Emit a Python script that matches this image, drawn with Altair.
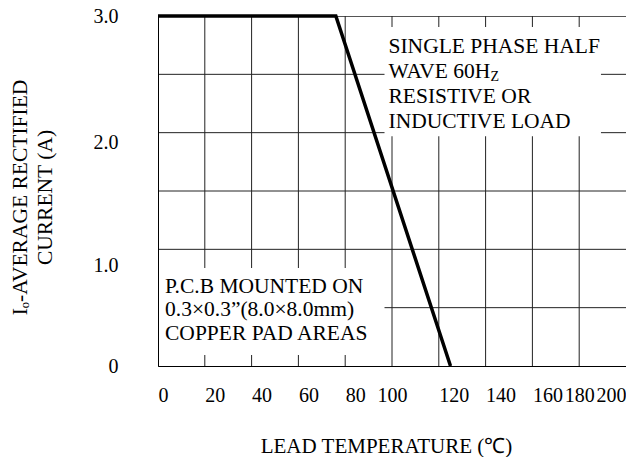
import altair as alt
import pandas as pd

# ---- data ----
temps = [0, 76, 125]          # lead temperature (°C)
current = [3.0, 3.0, 0.0]     # average rectified current (A)

x_ticks = [0, 20, 40, 60, 80, 100, 120, 140, 160, 180, 200]
y_ticks = [0, 1.0, 2.0, 3.0]
x_grid = [20, 40, 60, 80, 100, 120, 140, 160, 180]
y_grid = [0.5, 1.0, 1.5, 2.0, 2.5]

note1_lines = ["SINGLE PHASE HALF", "WAVE 60H", "RESISTIVE OR", "INDUCTIVE LOAD"]
note1_sub = "Z"
note2_lines = ["P.C.B MOUNTED ON", "0.3\u00d70.3\u201d(8.0\u00d78.0mm)", "COPPER PAD AREAS"]

# annotation anchors in data units
box_x = [96.8, 0.0]
box_x2 = [189.3, 96.8]
box_y = [2.905, 0.84]
box_y2 = [1.97, 0.094]
note1_pos = (98.5, 2.683)
note1_sub_pos = (142.1, 2.443)
note2_pos = (3.0, 0.626)

FONT = "Liberation Serif"

xs = alt.Scale(domain=[0, 200], nice=False, zero=False)
ys = alt.Scale(domain=[0, 3], nice=False)

curve = pd.DataFrame({"t": temps, "i": current})

x_axis = alt.Axis(
    values=x_ticks, format="d", grid=False, ticks=False,
    domainColor="black", domainWidth=1,
    labelFont=FONT, labelFontSize=20, labelColor="black",
    labelPadding=19, labelOffset=0,
    labelAlign={"condition": [
        {"test": "datum.value == 100 || datum.value == 180", "value": "center"},
        {"test": "datum.value == 200", "value": "right"}], "value": "left"},
    title="LEAD TEMPERATURE (\u2103)", titleFont=FONT, titleFontSize=21,
    titleFontWeight="normal", titleColor="black",
    titleX=228, titleY=86, titleBaseline="alphabetic", titleAlign="center",
    zindex=1)

y_axis = alt.Axis(
    values=y_ticks, grid=False, ticks=False,
    labelExpr="datum.value == 0 ? '0' : format(datum.value, '.1f')",
    domainColor="black", domainWidth=1,
    labelFont=FONT, labelFontSize=20, labelColor="black",
    labelPadding=40, labelLineHeight=33,
    labelBaseline={"condition": [
        {"test": "datum.value == 2", "value": "top"},
        {"test": "datum.value == 1", "value": "line-top"}], "value": "middle"},
    title=["I\u2092-AVERAGE RECTIFIED", "CURRENT (A)"], titleFont=FONT,
    titleFontSize=21.5, titleFontWeight="normal", titleColor="black",
    titleAngle=270, titleX=-132, titleY=181, titleBaseline="alphabetic",
    titleAlign="center", titleLineHeight=25, zindex=1)


def X(field):
    return alt.X(field, scale=xs, axis=x_axis)


def Y(field):
    return alt.Y(field, scale=ys, axis=y_axis)


vgrid = alt.Chart(pd.DataFrame({"g": x_grid})).mark_rule(color="#222", strokeWidth=1).encode(
    x=X("g:Q"))
hgrid = alt.Chart(pd.DataFrame({"g": y_grid})).mark_rule(color="#222", strokeWidth=1).encode(
    y=Y("g:Q"))

boxes = alt.Chart(pd.DataFrame({"x": box_x, "x2": box_x2, "y": box_y, "y2": box_y2})).mark_rect(
    fill="white").encode(x=X("x:Q"), x2="x2:Q", y=Y("y:Q"), y2="y2:Q")

note1 = alt.Chart(pd.DataFrame({"x": [note1_pos[0]], "y": [note1_pos[1]],
                                "txt": ["\n".join(note1_lines)]})).mark_text(
    align="left", baseline="alphabetic", font=FONT, fontSize=21.5, lineHeight=25,
    lineBreak="\n", color="black").encode(x=X("x:Q"), y=Y("y:Q"), text="txt:N")

note1s = alt.Chart(pd.DataFrame({"x": [note1_sub_pos[0]], "y": [note1_sub_pos[1]],
                                 "txt": [note1_sub]})).mark_text(
    align="left", baseline="alphabetic", font=FONT, fontSize=14, color="black").encode(
    x=X("x:Q"), y=Y("y:Q"), text="txt:N")

note2 = alt.Chart(pd.DataFrame({"x": [note2_pos[0]], "y": [note2_pos[1]],
                                "txt": ["\n".join(note2_lines)]})).mark_text(
    align="left", baseline="alphabetic", font=FONT, fontSize=21.5, lineHeight=23.5,
    lineBreak="\n", color="black").encode(x=X("x:Q"), y=Y("y:Q"), text="txt:N")

line = alt.Chart(curve).mark_line(color="black", strokeWidth=3.5).encode(
    x=X("t:Q"), y=Y("i:Q"))

chart = alt.layer(vgrid, hgrid, boxes, note1, note1s, note2, line).properties(
    width=468, height=350,
    padding={"left": 150, "top": 8, "right": 0, "bottom": 91},
    autosize=alt.AutoSizeParams(type="none"),
).configure(
    font=FONT, background="white",
    view=alt.ViewConfig(stroke="#555", strokeWidth=1),
)

chart.save("out.html", embed_options={"renderer": "svg", "actions": False})
